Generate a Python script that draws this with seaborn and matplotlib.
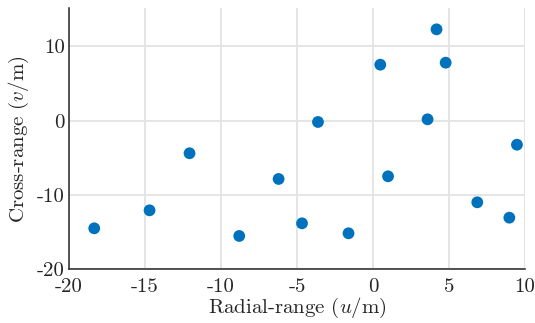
import matplotlib
matplotlib.use("Agg")
import matplotlib.pyplot as plt
import seaborn as sns
import pandas as pd

radial = [-18.34, -14.70, -12.07, -8.80, -6.21, -4.67, -3.62, -1.61,
          0.48, 0.99, 3.59, 4.18, 4.78, 6.86, 8.97, 9.47]
cross = [-14.47, -12.05, -4.37, -15.50, -7.83, -13.80, -0.16, -15.14,
         7.55, -7.47, 0.20, 12.31, 7.82, -10.97, -13.04, -3.22]
x_ticks = [-20, -15, -10, -5, 0, 5, 10]
y_ticks = [-20, -10, 0, 10]

df = pd.DataFrame({"radial": radial, "cross": cross})

sns.set_theme(style="white")
plt.rcParams["font.family"] = ["cmr10", "DejaVu Serif"]
plt.rcParams["mathtext.fontset"] = "cm"
plt.rcParams["axes.unicode_minus"] = False
plt.rcParams["axes.formatter.use_mathtext"] = False

fig = plt.figure(figsize=(5.35, 3.23), dpi=100)
ax = fig.add_axes([69/535, 1-269.4/323, (525-69)/535, (269.4-8.3)/323])

sns.scatterplot(data=df, x="radial", y="cross", ax=ax, s=72, color="#0072BD",
                edgecolor="none", zorder=3)

ax.set_xlim(-20, 10)
ax.set_ylim(-20, 15.14)
ax.set_xticks(x_ticks)
ax.set_yticks(y_ticks)
ax.set_xticklabels([str(t) for t in x_ticks])
ax.set_yticklabels([str(t) for t in y_ticks])
ax.grid(True, color="#e3e3e3", linewidth=1.3)
ax.set_axisbelow(True)
for side in ["top", "right"]:
    ax.spines[side].set_visible(False)
for side in ["left", "bottom"]:
    ax.spines[side].set_color("#262626")
    ax.spines[side].set_linewidth(1.1)
ax.tick_params(direction="in", length=4, width=1, color="#262626",
               labelsize=15, labelcolor="#262626")
ax.tick_params(axis="x", pad=6)
ax.tick_params(axis="y", pad=3)
ax.set_xlabel(r"Radial-range $(u/\mathrm{m})$", fontsize=15, color="#262626", labelpad=0)
ax.set_ylabel(r"Cross-range $(v/\mathrm{m})$", fontsize=15, color="#262626", labelpad=4)

fig.savefig("out.png", dpi=100)
